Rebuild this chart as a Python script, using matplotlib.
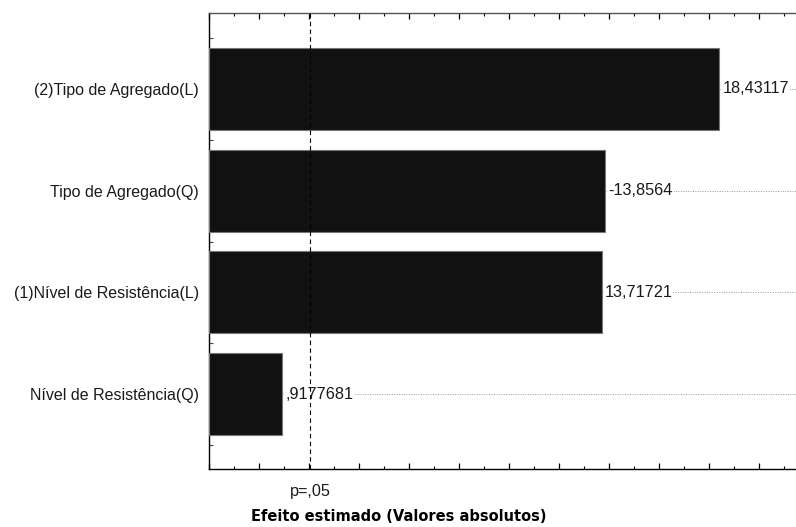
import matplotlib
matplotlib.use("Agg")
import matplotlib.pyplot as plt
from matplotlib.ticker import MultipleLocator
import numpy as np

categories = ["(2)Tipo de Agregado(L)", "Tipo de Agregado(Q)",
              "(1)Nível de Resistência(L)", "Nível de Resistência(Q)"]
effects = [18.43117, 13.8564, 13.71721, 0.9177681]
value_labels = ["18,43117", "-13,8564", "13,71721", ",9177681"]
p_value = 2.05
p_label = "p=,05"
xlabel = "Efeito estimado (Valores absolutos)"

plt.rcParams['font.family'] = ['Liberation Sans', 'DejaVu Sans']

W, H = 796, 527
fig = plt.figure(figsize=(W/100, H/100), dpi=100)
ax = fig.add_axes([208.5/W, 1 - 469/H, (W - 208.5)/W, (469 - 13)/H])

xmin, xmax = -2.03, 21.5
ypos = np.arange(len(categories))
ax.barh(ypos, [e - xmin for e in effects], left=xmin, height=0.805,
        color='#111111', edgecolor='#777777', linewidth=0.8, zorder=3)

for y, e, lab in zip(ypos, effects, value_labels):
    ax.hlines(y, e, xmax, colors='#999999', linestyles=(0, (1, 1.5)),
              linewidth=0.7, zorder=2)
    ax.text(e + 0.12, y, lab, va='center', ha='left', fontsize=11.7,
            color='#1a1a1a', zorder=4,
            bbox=dict(facecolor='white', edgecolor='none', pad=0.3))

ax.axvline(p_value, color='black', linestyle=(0, (4, 3)), linewidth=0.8, zorder=5)

ax.set_xlim(xmin, xmax)
ax.set_ylim(3.735, -0.745)

ax.set_yticks(ypos)
ax.set_yticklabels(categories, fontsize=11.5, color='#1a1a1a')
ax.tick_params(axis='y', which='major', length=0, pad=7)
ax.yaxis.remove_overlapping_locs = False
ax.yaxis.set_minor_locator(MultipleLocator(0.25))
ax.tick_params(axis='y', which='minor', direction='in', length=3, width=0.8,
               left=True, color='#444444')

ax.xaxis.set_major_locator(MultipleLocator(2))
ax.xaxis.set_minor_locator(MultipleLocator(1))
ax.tick_params(axis='x', which='major', direction='in', length=4, width=0.9,
               top=True, bottom=True, labelbottom=False)
ax.tick_params(axis='x', which='minor', direction='in', length=2.5, width=0.8,
               top=True, bottom=True)

for s in ['left', 'bottom']:
    ax.spines[s].set_linewidth(1.0)
    ax.spines[s].set_color('black')
ax.spines['top'].set_linewidth(1.0)
ax.spines['top'].set_color('#555555')
ax.spines['right'].set_visible(False)

ax.annotate(p_label, xy=(p_value, 0), xycoords=('data', 'axes fraction'),
            xytext=(0, -11), textcoords='offset points', ha='center', va='top',
            fontsize=11.7, color='#1a1a1a')

fig.text(399 / W, 1 - 521 / H, xlabel, ha='center', va='baseline',
         fontsize=10.5, fontweight='bold', family='DejaVu Sans')

fig.savefig("out.png", dpi=100)
